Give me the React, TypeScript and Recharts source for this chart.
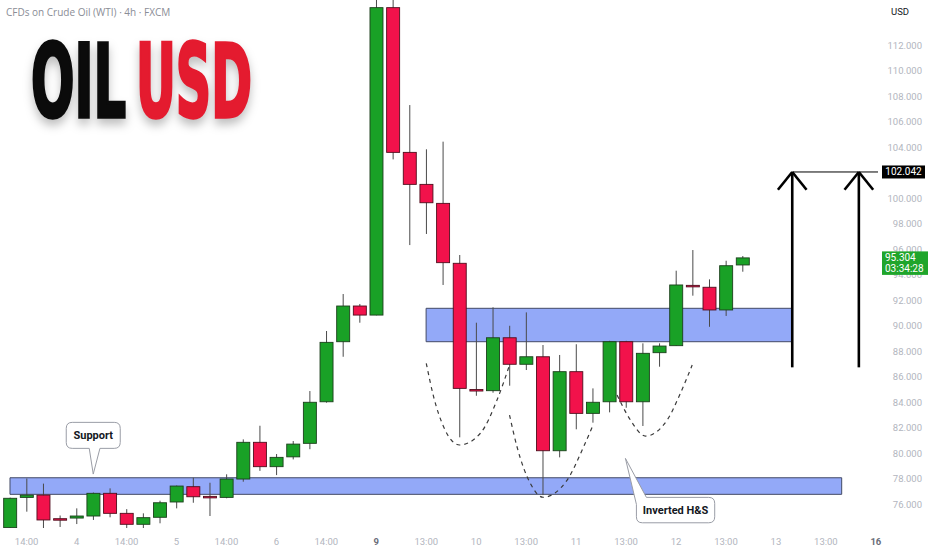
import { ComposedChart, Bar, Line, XAxis, YAxis, ReferenceArea, ReferenceLine, ReferenceDot } from "recharts";

// 4h candles, CFDs on Crude Oil (WTI)
const OPEN = [74.15, 76.52, 76.7, 74.85, 74.9, 75.06, 76.84, 75.27, 74.41, 74.96, 76.16, 77.36, 76.6, 76.52, 77.96, 80.84, 78.93, 79.7, 80.76, 84.02, 88.73, 91.53, 90.82, 114.93, 103.58, 101.07, 99.58, 94.88, 84.98, 84.89, 89.04, 86.96, 87.55, 80.18, 86.38, 83.11, 84.02, 88.73, 84.02, 87.87, 88.42, 93.15, 93.0, 91.22, 94.75];
const HIGH = [76.5, 78.0, 77.6, 75.1, 75.66, 76.9, 77.23, 75.6, 75.27, 76.26, 77.45, 78.06, 77.67, 78.33, 81.07, 82.14, 79.92, 80.94, 84.86, 89.57, 92.47, 91.69, 116.5, 116.5, 107.29, 103.82, 104.42, 95.53, 90.22, 91.43, 89.98, 91.03, 88.47, 87.69, 88.53, 85.07, 88.8, 88.8, 88.6, 88.6, 94.3, 95.92, 93.62, 95.08, 95.45];
const LOW = [74.12, 75.4, 74.1, 74.2, 74.43, 74.75, 74.96, 74.1, 74.04, 74.49, 75.66, 76.1, 75.06, 76.45, 77.75, 78.6, 78.27, 79.5, 80.3, 83.95, 87.55, 90.22, 90.8, 103.03, 96.31, 97.18, 93.18, 81.23, 84.49, 84.73, 85.28, 86.51, 76.7, 79.66, 81.86, 82.38, 83.19, 83.55, 82.12, 86.77, 88.4, 92.34, 89.9, 90.75, 94.22];
const CLOSE = [76.45, 76.7, 74.75, 74.8, 75.06, 76.84, 75.27, 74.41, 74.93, 76.1, 77.41, 76.57, 76.55, 77.96, 80.84, 78.93, 79.66, 80.7, 83.98, 88.68, 91.53, 90.82, 114.93, 103.58, 101.07, 99.63, 94.93, 85.07, 84.9, 89.04, 86.96, 87.55, 80.18, 86.38, 83.11, 83.98, 88.73, 84.02, 87.82, 88.39, 93.18, 93.1, 91.22, 94.69, 95.304];

const X_TICKS = [1, 4, 7, 10, 13, 16, 19, 22, 25, 28, 31, 34, 37, 40, 43, 46, 49, 52];
const X_LABELS = ["14:00", "4", "14:00", "5", "14:00", "6", "14:00", "9", "13:00", "10", "13:00", "11", "13:00", "12", "13:00", "13", "13:00", "16"];
const STRONG_LABELS = ["9", "16"];
// 102 is hidden behind the target price label
const Y_TICKS = [76, 78, 80, 82, 84, 86, 88, 90, 92, 94, 96, 98, 100, 104, 106, 108, 110, 112];

// zones: [from candle, to candle, low price, high price]
const SUPPORT_ZONE = [0, 49.95, 76.76, 78.06];
const NECKLINE_ZONE = [24.99, 46.99, 88.73, 91.35];

// dashed inverted head & shoulders sketch (candle index, price)
const LEFT_SHOULDER = [
  { i: 25.0, v: 87.04 }, { i: 25.44, v: 84.42 }, { i: 26.04, v: 82.06 }, { i: 27.0, v: 80.63 },
  { i: 28.25, v: 81.55 }, { i: 29.25, v: 84.16 }, { i: 30.0, v: 86.9 },
];
const HEAD = [
  { i: 30.0, v: 82.98 }, { i: 30.45, v: 80.49 }, { i: 31.25, v: 77.62 }, { i: 32.01, v: 76.53 },
  { i: 33.46, v: 77.88 }, { i: 34.45, v: 80.49 }, { i: 35.02, v: 82.2 },
];
const RIGHT_SHOULDER = [
  { i: 36.46, v: 84.55 }, { i: 37.26, v: 82.59 }, { i: 38.16, v: 81.33 }, { i: 39.47, v: 82.59 },
  { i: 40.26, v: 84.68 }, { i: 40.97, v: 86.9 },
];

const ARROW_X = [46.98, 50.98];
const ARROW_FROM = 86.72;
const TARGET = 102.042;
const LAST_PRICE = 95.304;
const COUNTDOWN = "03:34:28";
const SUPPORT_TIP = { i: 5.0, v: 78.35 };
const PATTERN_TIP = { i: 36.96, v: 79.58 };

const X_MIN = -0.6;
const X_MAX = 52.13;

const candles = OPEN.map((o, i) => ({
  i,
  open: o,
  high: HIGH[i],
  low: LOW[i],
  close: CLOSE[i],
  range: [LOW[i], HIGH[i]],
}));

const GREEN = "#19a126";
const RED = "#f2124b";

const Candle = (props: any) => {
  const { x, y, width, height, payload } = props;
  const { open, close, high, low } = payload;
  const top = Math.min(y, y + height);
  const h = Math.abs(height);
  const ppu = high === low ? 0 : h / (high - low);
  const yO = top + (high - open) * ppu;
  const yC = top + (high - close) * ppu;
  const up = close >= open;
  const cx = x + width / 2;
  const bTop = Math.min(yO, yC);
  const bH = Math.max(Math.abs(yC - yO), 1.5);
  return (
    <g>
      <line x1={cx} x2={cx} y1={top} y2={top + h} stroke="#4a4a4a" strokeWidth={1} />
      <rect
        x={x}
        y={bTop}
        width={width}
        height={bH}
        fill={up ? GREEN : RED}
        stroke={up ? "#1c3f1c" : "#4f0e1d"}
        strokeWidth={0.9}
      />
    </g>
  );
};

const XTick = (p: any) => {
  const idx = X_TICKS.indexOf(p.payload.value);
  const label = X_LABELS[idx] ?? "";
  const strong = STRONG_LABELS.includes(label);
  return (
    <text
      x={p.x}
      y={541}
      textAnchor="middle"
      dominantBaseline="central"
      fontFamily="Roboto, sans-serif"
      fontSize={9.5}
      fontWeight={strong ? 700 : 400}
      fill={strong ? "#6a6d78" : "#b2b5be"}
    >
      {label}
    </text>
  );
};

const YTick = (p: any) => (
  <text
    x={922}
    y={p.y}
    textAnchor="end"
    dominantBaseline="central"
    fontFamily="Roboto, sans-serif"
    fontSize={9.5}
    fill="#b2b5be"
  >
    {Number(p.payload.value).toFixed(3)}
  </text>
);

const SupportBubble = (p: any) => {
  const { cx, cy } = p;
  const L = cx - 27, R = cx + 27, T = cy - 51.7, B = cy - 25.7, r = 6;
  const d = `M${L + r},${T} H${R - r} Q${R},${T} ${R},${T + r} V${B - r} Q${R},${B} ${R - r},${B} H${cx + 6.7} L${cx},${cy} L${cx - 4},${B} H${L + r} Q${L},${B} ${L},${B - r} V${T + r} Q${L},${T} ${L + r},${T} Z`;
  return (
    <g>
      <path d={d} fill="#fff" stroke="#9a9da6" strokeWidth={1} />
      <text x={cx} y={(T + B) / 2} textAnchor="middle" dominantBaseline="central" fontFamily="Roboto, sans-serif" fontWeight={700} fontSize={11} fill="#131722">
        Support
      </text>
    </g>
  );
};

const PatternBubble = (p: any) => {
  const { cx, cy } = p;
  const L = cx + 11, R = cx + 89.3, T = cy + 39, B = cy + 64.4, r = 6;
  const d = `M${cx + 21},${T} H${R - r} Q${R},${T} ${R},${T + r} V${B - r} Q${R},${B} ${R - r},${B} H${L + r} Q${L},${B} ${L},${B - r} V${T + 7} L${cx},${cy} Z`;
  return (
    <g>
      <path d={d} fill="#fff" stroke="#9a9da6" strokeWidth={1} />
      <text x={(L + R) / 2} y={(T + B) / 2} textAnchor="middle" dominantBaseline="central" fontFamily="Roboto, sans-serif" fontWeight={700} fontSize={11} fill="#131722">
        Inverted H&amp;S
      </text>
    </g>
  );
};

const TargetLabel = (props: any) => {
  const vb = props.viewBox;
  const x = vb.x + vb.width + 4;
  return (
    <g>
      <rect x={x} y={vb.y - 6.5} width={43} height={13} fill="#000" />
      <text x={x + 21.5} y={vb.y} textAnchor="middle" dominantBaseline="central" fontFamily="Roboto, sans-serif" fontSize={10} fill="#fff">
        {TARGET.toFixed(3)}
      </text>
    </g>
  );
};

const LastLabel = (props: any) => {
  const vb = props.viewBox;
  const x = vb.x + vb.width + 4;
  return (
    <g>
      <rect x={x} y={vb.y - 6.5} width={46} height={23.5} fill="#1fa52b" />
      <text x={x + 3} y={vb.y} dominantBaseline="central" fontFamily="Roboto, sans-serif" fontSize={10} fill="#fff">
        {LAST_PRICE.toFixed(3)}
      </text>
      <text x={x + 3} y={vb.y + 10.5} dominantBaseline="central" fontFamily="Roboto, sans-serif" fontSize={10} fill="#fff">
        {COUNTDOWN}
      </text>
    </g>
  );
};

const dashed = { stroke: "#3a3a3a", strokeWidth: 1.2, strokeDasharray: "4 4" };
const arrowStroke = { stroke: "#000", strokeWidth: 2.6 };

const TITLE_SQUEEZE = 0.68;
const titleFont = {
  fontFamily: "'Liberation Sans Narrow', 'DejaVu Sans Condensed', sans-serif",
  fontWeight: 700,
  fontSize: 101,
  lengthAdjust: "spacingAndGlyphs",
  strokeWidth: 3.4,
};

export default function App() {
  return (
    <div style={{ position: "relative", width: 932, height: 550, background: "#fff" }}>
      <style>{`body{margin:0;background:#fff}`}</style>
      <ComposedChart width={932} height={550} data={candles} margin={{ top: 0, right: 0, bottom: 0, left: 0 }}>
        <XAxis
          dataKey="i"
          type="number"
          domain={[X_MIN, X_MAX]}
          allowDataOverflow
          ticks={X_TICKS}
          interval={0}
          height={22}
          axisLine={false}
          tickLine={false}
          tick={<XTick />}
        />
        <XAxis xAxisId="ann" dataKey="i" type="number" domain={[X_MIN, X_MAX]} allowDataOverflow hide />
        <YAxis
          orientation="right"
          type="number"
          domain={[74.12, 115.53]}
          allowDataOverflow
          ticks={Y_TICKS}
          interval={0}
          width={54}
          axisLine={false}
          tickLine={false}
          tick={<YTick />}
        />
        <ReferenceArea
          x1={SUPPORT_ZONE[0]}
          x2={SUPPORT_ZONE[1]}
          y1={SUPPORT_ZONE[2]}
          y2={SUPPORT_ZONE[3]}
          fill="#93a9f8"
          fillOpacity={1}
          stroke="#434a66"
          strokeWidth={1}
        />
        <ReferenceArea
          x1={NECKLINE_ZONE[0]}
          x2={NECKLINE_ZONE[1]}
          y1={NECKLINE_ZONE[2]}
          y2={NECKLINE_ZONE[3]}
          fill="#93a9f8"
          fillOpacity={1}
          stroke="#434a66"
          strokeWidth={1}
        />
        <Bar dataKey="range" barSize={13} shape={<Candle />} isAnimationActive={false} />
        <Line xAxisId="ann" data={LEFT_SHOULDER} dataKey="v" type="monotone" {...dashed} dot={false} activeDot={false} isAnimationActive={false} />
        <Line xAxisId="ann" data={HEAD} dataKey="v" type="monotone" {...dashed} dot={false} activeDot={false} isAnimationActive={false} />
        <Line xAxisId="ann" data={RIGHT_SHOULDER} dataKey="v" type="monotone" {...dashed} dot={false} activeDot={false} isAnimationActive={false} />
        <ReferenceLine
          segment={[{ x: ARROW_X[0], y: TARGET }, { x: X_MAX, y: TARGET }]}
          stroke="#000"
          strokeWidth={1}
          label={<TargetLabel />}
          zIndex={2000}
        />
        <ReferenceLine y={LAST_PRICE} stroke="none" label={<LastLabel />} zIndex={2000} />
        {ARROW_X.map((ax) => (
          <ReferenceLine key={`s${ax}`} segment={[{ x: ax, y: ARROW_FROM }, { x: ax, y: TARGET }]} {...arrowStroke} />
        ))}
        {ARROW_X.map((ax) => (
          <ReferenceLine key={`l${ax}`} segment={[{ x: ax - 0.86, y: TARGET - 1.39 }, { x: ax, y: TARGET }]} {...arrowStroke} />
        ))}
        {ARROW_X.map((ax) => (
          <ReferenceLine key={`r${ax}`} segment={[{ x: ax + 0.86, y: TARGET - 1.39 }, { x: ax, y: TARGET }]} {...arrowStroke} />
        ))}
        <ReferenceDot x={SUPPORT_TIP.i} y={SUPPORT_TIP.v} shape={<SupportBubble />} />
        <ReferenceDot x={PATTERN_TIP.i} y={PATTERN_TIP.v} shape={<PatternBubble />} />
      </ComposedChart>

      <div style={{ position: "absolute", left: 6, top: 5, fontFamily: "'Open Sans', sans-serif", fontSize: 10, color: "#8a8d96", whiteSpace: "nowrap" }}>
        CFDs on Crude Oil (WTI) · 4h · FXCM
      </div>
      <div style={{ position: "absolute", left: 891, top: 6, fontFamily: "Roboto, sans-serif", fontSize: 9.5, color: "#131722" }}>USD</div>
      <svg
        width={300}
        height={140}
        style={{ position: "absolute", left: 0, top: 0, filter: "drop-shadow(0px 6px 5px rgba(0,0,0,0.25))" }}
      >
        <g transform={`translate(31,116.8) scale(${TITLE_SQUEEZE},1)`}>
          <text x={0} y={0} textLength={95 / TITLE_SQUEEZE} fill="#0b0b0b" stroke="#0b0b0b" {...titleFont}>
            OIL
          </text>
        </g>
        <g transform={`translate(136,116.8) scale(${TITLE_SQUEEZE},1)`}>
          <text x={0} y={0} textLength={116 / TITLE_SQUEEZE} fill="#e41b2f" stroke="#e41b2f" {...titleFont}>
            USD
          </text>
        </g>
      </svg>
    </div>
  );
}
